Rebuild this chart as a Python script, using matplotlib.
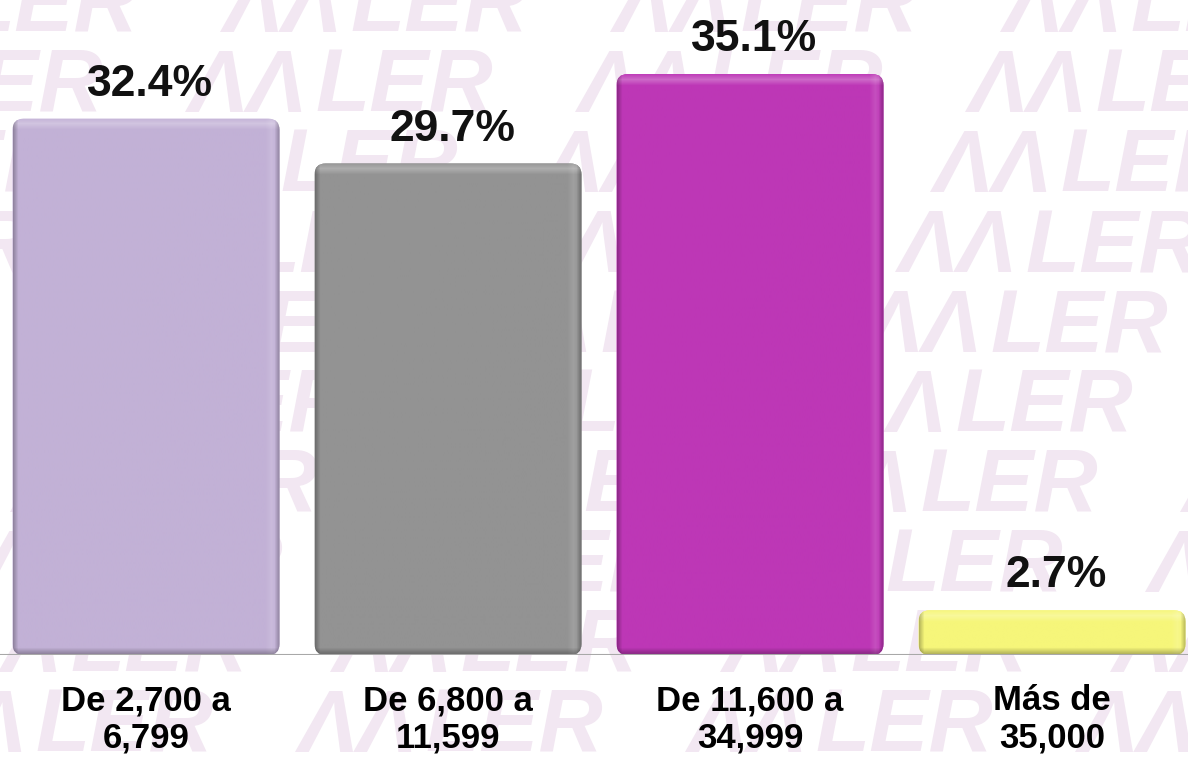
import numpy as np
import matplotlib
matplotlib.use("Agg")
import matplotlib.pyplot as plt
from matplotlib.patches import FancyBboxPatch
from matplotlib.colors import to_rgb

plt.rcParams['font.family'] = ['Liberation Sans', 'DejaVu Sans']

# data
categories = ["De 2,700 a\n6,799", "De 6,800 a\n11,599", "De 11,600 a\n34,999", "Más de\n35,000"]
values = [32.4, 29.7, 35.1, 2.7]
value_labels = ["32.4%", "29.7%", "35.1%", "2.7%"]
bar_colors = ["#c2b1d6", "#939393", "#bd37b6", "#f6f67a"]

W, H = 1188, 761
fig = plt.figure(figsize=(W / 100, H / 100), dpi=100)
fig.patch.set_facecolor("white")

# background watermark: rows of italic "ΛΛLER" logo text
period = 390
for k in range(11):
    base_y = 32 + 80 * k
    lx = (1130 - 35 * k) % period - period
    while lx < W + period:
        fig.text(lx / W, 1 - base_y / H, "LER", ha="left", va="baseline",
                 fontsize=64, fontstyle="italic", fontweight="bold",
                 color="#f2e7f2", zorder=-2)
        fig.text((lx - 8) / W, 1 - base_y / H, "ΛΛ", ha="right", va="baseline",
                 fontsize=64, fontstyle="italic", fontweight="bold",
                 color="#f2e7f2", zorder=-2)
        lx += period

# axes: baseline at y=655 px
ax = fig.add_axes([0, (H - 655) / H, 1, 655 / H])
ax.patch.set_alpha(0)
xmin, xmax = -146 / 302, (W - 146) / 302
ymax = 655 / 16.55
px_x = W / (xmax - xmin)
px_y = 655 / ymax

x = np.arange(len(categories))
bars = ax.bar(x, values, width=0.884, color=bar_colors)


def shade_bar(rect, color):
    x0, y0 = rect.get_x(), rect.get_y()
    w, h = rect.get_width(), rect.get_height()
    rect.set_visible(False)
    patch = FancyBboxPatch((x0, y0), w, h,
                           boxstyle="round,pad=0,rounding_size=%f" % (11 / px_x),
                           mutation_aspect=px_x / px_y,
                           facecolor=color, edgecolor="none", zorder=2)
    ax.add_patch(patch)
    nx, ny = int(w * px_x), max(int(h * px_y), 2)
    yy = np.arange(ny)[:, None, None]
    xx = np.arange(nx)[None, :, None]
    img = np.ones((ny, nx, 3)) * np.array(to_rgb(color))
    light_top = np.clip(1 - np.abs(yy - 5) / 6, 0, 1) * 0.25
    light_side = np.clip(1 - np.abs((nx - 1 - xx) - 8) / 6, 0, 1) * 0.12
    dark_bot = np.clip(1 - (ny - 1 - yy) / 7, 0, 1) * 0.3
    dark_side = np.clip(1 - np.minimum(xx, nx - 1 - xx) / 5, 0, 1) * 0.25
    img = img * (1 - light_top) + light_top
    img = img * (1 - light_side) + light_side
    img = img * (1 - dark_bot) * (1 - dark_side)
    im = ax.imshow(img, extent=[x0, x0 + w, y0, y0 + h], aspect="auto",
                   interpolation="bilinear", zorder=2)
    im.set_clip_path(patch)


for r, c in zip(bars, bar_colors):
    shade_bar(r, c)

for xi, v, lab in zip(x, values, value_labels):
    ax.annotate(lab, (xi, v), xytext=(3, 10), textcoords="offset points",
                ha="center", va="bottom", fontsize=32, fontweight="bold",
                color="#111111")

ax.axhline(0, color="#a8a8a8", lw=1.5, zorder=3)
ax.set_xlim(xmin, xmax)
ax.set_ylim(0, ymax)
ax.set_aspect("auto")
ax.set_xticks(x, categories)
ax.set_yticks([])
ax.tick_params(axis="x", length=0, pad=21)
for t in ax.get_xticklabels():
    t.set_fontsize(25)
    t.set_fontweight("bold")
    t.set_linespacing(1.18)
for s in ax.spines.values():
    s.set_visible(False)

fig.savefig("out.png", dpi=100)
